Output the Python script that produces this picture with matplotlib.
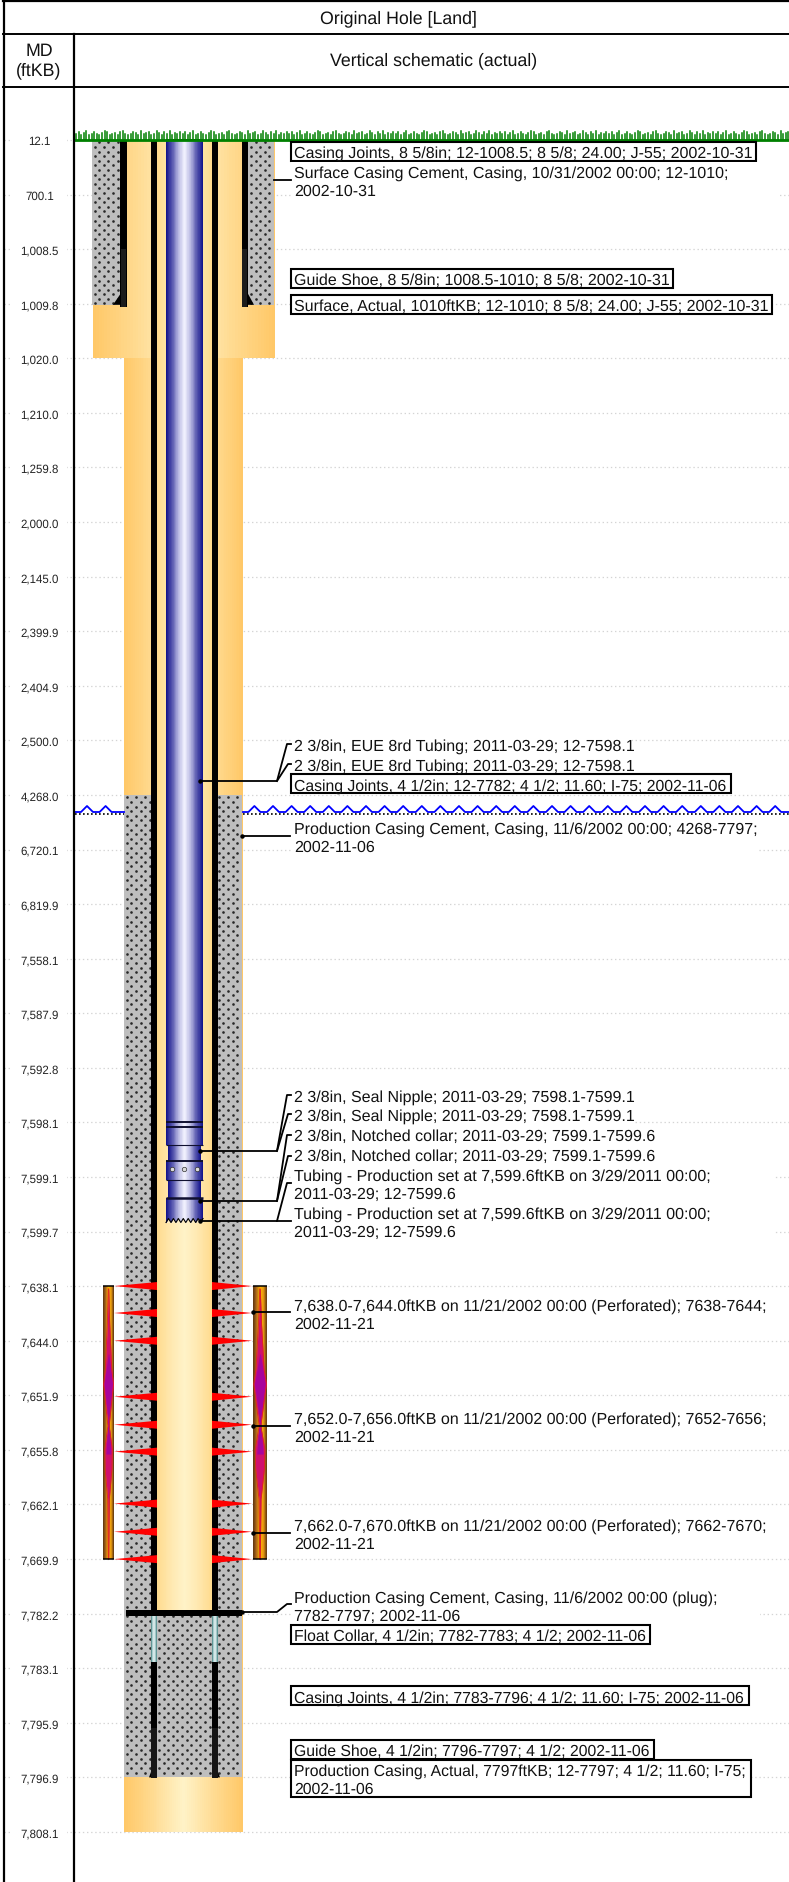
import matplotlib
matplotlib.use('Agg')
import matplotlib.pyplot as plt
import numpy as np
from matplotlib.colors import LinearSegmentedColormap
from matplotlib.patches import Rectangle
from matplotlib.transforms import Affine2D

plt.rcParams['font.family'] = ['Liberation Sans', 'DejaVu Sans']
plt.rcParams['text.hinting'] = 'no_hinting'

WIDTH, HEIGHT = 789, 1883

# Depth stations shown on the MD column, evenly spaced on the page
md_ticks = [12.1, 700.1, 1008.5, 1009.8, 1020.0, 1210.0, 1259.8, 2000.0, 2145.0, 2399.9, 2404.9,
	2500.0, 4268.0, 6720.1, 6819.9, 7558.1, 7587.9, 7592.8, 7598.1, 7599.1, 7599.7, 7638.1,
	7644.0, 7651.9, 7655.8, 7662.1, 7669.9, 7782.2, 7783.1, 7795.9, 7796.9, 7808.1]
md_labels = ['12.1', '700.1', '1,008.5', '1,009.8', '1,020.0', '1,210.0', '1,259.8', '2,000.0', '2,145.0',
	'2,399.9', '2,404.9', '2,500.0', '4,268.0', '6,720.1', '6,819.9', '7,558.1', '7,587.9', '7,592.8',
	'7,598.1', '7,599.1', '7,599.7', '7,638.1', '7,644.0', '7,651.9', '7,655.8', '7,662.1', '7,669.9',
	'7,782.2', '7,783.1', '7,795.9', '7,796.9', '7,808.1']

# Perforation shots
shot_mds = [7638, 7641, 7644, 7652, 7654, 7656, 7662, 7666, 7670]

# Grass blade heights, repeated along the ground line
grass_heights = [6, 8, 5, 7, 9, 5, 6, 8, 6, 5, 7, 9, 8, 5, 6, 7, 5, 8, 9, 6, 5, 6, 8, 7, 5, 9, 6, 7, 8, 5, 6, 9, 7, 5, 8, 6, 9, 5, 7, 6, 8]

# text, row of the first line, right edge of the white block, boxed
label_texts = [
	('Casing Joints, 8 5/8in; 12-1008.5; 8 5/8; 24.00; J-55; 2002-10-31', 152, 756, True),
	('Surface Casing Cement, Casing, 10/31/2002 00:00; 12-1010;\n2002-10-31', 172, 778, False),
	('Guide Shoe, 8 5/8in; 1008.5-1010; 8 5/8; 2002-10-31', 279.5, 673, True),
	('Surface, Actual, 1010ftKB; 12-1010; 8 5/8; 24.00; J-55; 2002-10-31', 305.5, 772, True),
	('2 3/8in, EUE 8rd Tubing; 2011-03-29; 12-7598.1', 745, 632, False),
	('2 3/8in, EUE 8rd Tubing; 2011-03-29; 12-7598.1', 765, 632, False),
	('Casing Joints, 4 1/2in; 12-7782; 4 1/2; 11.60; I-75; 2002-11-06', 784.5, 731, True),
	('Production Casing Cement, Casing, 11/6/2002 00:00; 4268-7797;\n2002-11-06', 828, 757, False),
	('2 3/8in, Seal Nipple; 2011-03-29; 7598.1-7599.1', 1096, 633, False),
	('2 3/8in, Seal Nipple; 2011-03-29; 7598.1-7599.1', 1115, 633, False),
	('2 3/8in, Notched collar; 2011-03-29; 7599.1-7599.6', 1135, 653, False),
	('2 3/8in, Notched collar; 2011-03-29; 7599.1-7599.6', 1155, 653, False),
	('Tubing - Production set at 7,599.6ftKB on 3/29/2011 00:00;\n2011-03-29; 12-7599.6', 1175, 775, False),
	('Tubing - Production set at 7,599.6ftKB on 3/29/2011 00:00;\n2011-03-29; 12-7599.6', 1213, 775, False),
	('7,638.0-7,644.0ftKB on 11/21/2002 00:00 (Perforated); 7638-7644;\n2002-11-21', 1305, 785, False),
	('7,652.0-7,656.0ftKB on 11/21/2002 00:00 (Perforated); 7652-7656;\n2002-11-21', 1418, 785, False),
	('7,662.0-7,670.0ftKB on 11/21/2002 00:00 (Perforated); 7662-7670;\n2002-11-21', 1525, 785, False),
	('Production Casing Cement, Casing, 11/6/2002 00:00 (plug);\n7782-7797; 2002-11-06', 1597, 760, False),
	('Float Collar, 4 1/2in; 7782-7783; 4 1/2; 2002-11-06', 1635, 650, True),
	('Casing Joints, 4 1/2in; 7783-7796; 4 1/2; 11.60; I-75; 2002-11-06', 1696.5, 749, True),
	('Guide Shoe, 4 1/2in; 7796-7797; 4 1/2; 2002-11-06', 1750.5, 654, True),
	('Production Casing, Actual, 7797ftKB; 12-7797; 4 1/2; 11.60; I-75;\n2002-11-06', 1770, 751, True),
]

# Page rows of the stations, and the extended depth range for the empty top and bottom
scale_md = np.array([-3000.0] + md_ticks + [12000.0])
scale_rows = np.array([88.0] + [141 + 54.58*i for i in range(len(md_ticks))] + [HEIGHT])

def row_of(md):
	return np.interp(md, scale_md, scale_rows)

def md_of(row):
	return np.interp(row, scale_rows, scale_md)

def shift(md, rows):
	return md_of(row_of(md) + rows)

figure = plt.figure(figsize = (WIDTH/100, HEIGHT/100), dpi = 100)
axe = figure.add_axes([0, 0, 1, (HEIGHT - 88)/HEIGHT])
axe.set_yscale('function', functions = (row_of, md_of))
axe.set_xlim(0, WIDTH)
axe.set_ylim(12000, -3000)
axe.patch.set_visible(False)
for spine in axe.spines.values():
	spine.set_visible(False)
axe.set_xticks([])
axe.set_yticks(md_ticks, md_labels)
axe.minorticks_off()
axe.tick_params(axis = 'y', length = 0, pad = -28.5, labelsize = 8.3, labelcolor = '#222222')
for label in axe.get_yticklabels():
	label.set_ha('center')

# page pixels for layout things (labels, frame)
px = Affine2D().scale(1, -1).translate(0, HEIGHT)

def pipe(x0, x1, md0, md1, colors, zorder):
	cmap = LinearSegmentedColormap.from_list('pipe', colors)
	edges = np.linspace(x0, x1, 65)
	values = np.linspace(0, 1, 64).reshape(1, -1)
	axe.pcolormesh(edges, [md0, md1], values, cmap = cmap, shading = 'flat', zorder = zorder, antialiased = False)

def block(x0, x1, md0, md1, color, zorder):
	axe.add_patch(Rectangle((x0, md0), x1 - x0, md1 - md0, facecolor = color, edgecolor = 'none', zorder = zorder))

def cement(x0, x1, md0, md1, zorder):
	block(x0, x1, md0, md1, '#bebebe', zorder)
	row0, row1 = row_of(md0), row_of(md1)
	xs, ys = [], []
	for i, row in enumerate(np.arange(row0 + 2.5, row1 - 1, 4.6)):
		start = 90 + (4.6 if i % 2 else 0)
		for x in np.arange(start, x1 + 9, 9.2):
			if x0 + 1 < x < x1 - 1:
				xs.append(x)
				ys.append(row)
	axe.plot(xs, md_of(np.array(ys)), linestyle = 'none', marker = 'o', markersize = 1.9,
		markerfacecolor = '#282828', markeredgecolor = 'none', zorder = zorder + 0.1)

ORANGE = ['#ffc868', '#ffdc94', '#fff3c8', '#ffdc94', '#ffc868']
INNER = ['#ffdb8e', '#ffe8b0', '#fff3c8', '#ffe8b0', '#ffdb8e']
TUBE = ['#14148c', '#5a5ab0', '#b8b8e2', '#f4f4ff', '#b8b8e2', '#5a5ab0', '#14148c']
TEAL = ['#3f7f7f', '#a9cccc', '#e8f4f4', '#a9cccc', '#3f7f7f']
BAR = ['#5f3410', '#b06a18', '#ffb400', '#e89a10', '#5f3410']

# grid and the white strip behind the MD labels
axe.hlines(md_ticks, 4, WIDTH, color = '#d4d4d4', linewidth = 0.9, linestyle = (0, (1.1, 2.2)), zorder = 0.2)
axe.add_patch(Rectangle((11, -3000), 56, 15000, facecolor = 'white', edgecolor = 'none', zorder = 0.3))

# hole fill
pipe(93, 275, 12.1, 1020, ORANGE, 1)
pipe(124, 243, 1020, 7808.1, ORANGE, 1)

# cement
cement(92, 120.5, 12.1, 1010, 2)
cement(248, 274, 12.1, 1010, 2)
cement(124, 242, 4268, 7796.9, 2)

# inside of the production casing
pipe(157, 212, 12.1, 7782.2, INNER, 3)

# surface casing
for x0, x1 in [(120.5, 127), (242, 248)]:
	block(x0, x1, 12.1, 1010.4, 'black', 4)
	block(x0 + 0.5, x1 - 0.5, 1008.5, 1010.4, '#1c1c1c', 4.1)
axe.fill([120.5, 113, 120.5], [shift(1010, -11), 1010, 1010], color = 'black', linewidth = 0, zorder = 4)
axe.fill([248, 254, 248], [shift(1010, -11), 1010, 1010], color = 'black', linewidth = 0, zorder = 4)

# production casing
for x0, x1 in [(151, 157), (212, 218)]:
	block(x0, x1, 12.1, 7782.2, 'black', 4)
	pipe(x0, x1, 7782.2, 7783, TEAL, 4)
	block(x0, x1, 7783, 7797, 'black', 4)
	block(x0, x1, 7796, 7797, '#161616', 4.1)
axe.fill([151, 149, 151], [shift(7797, -6), 7796.9, 7796.9], color = 'black', linewidth = 0, zorder = 4)
axe.fill([218, 220, 218], [shift(7797, -6), 7796.9, 7796.9], color = 'black', linewidth = 0, zorder = 4)
block(126, 242, shift(7782.2, -4), shift(7782.2, 2), 'black', 5)

# tubing string
pipe(166, 203, 12.1, 7598.1, TUBE, 6)
pipe(166, 203, 7598.1, 7598.51, TUBE, 6)
pipe(168, 201, 7598.51, 7598.81, TUBE, 6)
pipe(166, 203, 7598.81, 7599.13, TUBE, 6)
pipe(168, 201, 7599.13, 7599.33, TUBE, 6)
pipe(166, 203, 7599.33, 7599.6, TUBE, 6)
axe.hlines([12.1], 166, 203, color = 'black', linewidth = 1.2, zorder = 6.2)
for md, x0, x1, width in [(7598.1, 166, 203, 1.4), (7598.18, 166, 203, 1.4), (7598.51, 166, 203, 0.8),
		(7598.81, 166, 203, 1.4), (7599.13, 166, 203, 0.8), (7599.33, 166, 203, 1.8)]:
	axe.hlines([md], x0, x1, color = '#101030', linewidth = width, zorder = 6.2)
axe.plot([172, 184.5, 197], [7598.96]*3, linestyle = 'none', marker = 'o', markersize = 3.2,
	markerfacecolor = '#dddddd', markeredgecolor = '#333333', markeredgewidth = 0.5, zorder = 6.3)

# notched collar teeth
teeth_x = np.arange(166, 204, 2.47)
teeth_rows = row_of(7599.6) + np.where(np.arange(len(teeth_x)) % 2 == 0, 0, -4.0)
axe.fill_between(teeth_x, md_of(teeth_rows), 7599.6, color = '#ffeec0', linewidth = 0, zorder = 6.25)
axe.plot(teeth_x, md_of(teeth_rows), color = 'black', linewidth = 0.8, zorder = 6.3)

# perforation guns
for x0, x1 in [(103, 114), (253, 267)]:
	pipe(x0, x1, 7638.1, 7669.9, BAR, 3)
	axe.hlines([7638.1, 7669.9], x0, x1, color = 'black', linewidth = 1.1, zorder = 3.2)
	mid = (x0 + x1)/2
	half = (x1 - x0)/11
	flame_rows = np.array([1290, 1325, 1370, 1385, 1427, 1450, 1470, 1500, 1560])
	flame_width = np.array([0.2, 1.2, 3.2, 5.0, 0.6, 3.8, 3.4, 0.8, 0.2])*half
	axe.fill_betweenx(md_of(flame_rows), mid - flame_width, mid + flame_width, color = '#d0106e', linewidth = 0, zorder = 3.1)
	core_rows = np.array([1355, 1385, 1420, 1455])
	core_width = np.array([0.3, 4.4, 0.5, 2.6])*half
	axe.fill_betweenx(md_of(core_rows), mid - core_width, mid + core_width, color = '#a8049c', linewidth = 0, zorder = 3.15)
	axe.plot(mid - flame_width, md_of(flame_rows), color = '#e02020', linewidth = 0.6, zorder = 3.18)
	axe.plot(mid + flame_width, md_of(flame_rows), color = '#e02020', linewidth = 0.6, zorder = 3.18)
	axe.fill_betweenx(md_of(np.array([1500, 1540, 1558])), mid - 0.9*half, mid + 0.9*half, color = '#f0a000', linewidth = 0, zorder = 3.05)

# perforation shots
for md in shot_mds:
	upper, lower = shift(md, -4), shift(md, 4)
	axe.fill([157, 114, 157], [upper, md, lower], color = '#ff0000', linewidth = 0, zorder = 4.5)
	axe.fill([212, 252, 212], [upper, md, lower], color = '#ff0000', linewidth = 0, zorder = 4.5)

# ground line
grass_x = np.arange(76, WIDTH, 2.6)
tops = [141 - grass_heights[i % len(grass_heights)] for i in range(len(grass_x))]
figure.add_artist(plt.Line2D([75, WIDTH], [140.5, 140.5], color = '#008000', linewidth = 2.0, transform = px))
for x, top in zip(grass_x, tops):
	figure.add_artist(plt.Line2D([x, x], [top, 141], color = '#008000', linewidth = 1.1, transform = px, zorder = 1))

# water table, broken by the well
for x0, x1 in [(75, 124), (243, WIDTH)]:
	wave_x, wave_y = [x0], [813]
	for peak in np.arange(87, WIDTH + 10, 18.6):
		if peak - 6 > x0 and peak + 6 < x1:
			wave_x += [peak - 6, peak, peak + 6]
			wave_y += [813, 807, 813]
	wave_x.append(x1)
	wave_y.append(813)
	figure.add_artist(plt.Line2D(wave_x, wave_y, color = '#0000ff', linewidth = 1.3, transform = px, zorder = 1))
	figure.add_artist(plt.Line2D([x0, x1], [815, 815], color = 'black', linewidth = 1.2, linestyle = (0, (1, 1.4)), transform = px, zorder = 1))

# labels
for text, row, right, boxed in label_texts:
	lines = text.split('\n')
	top = row - 9.5
	bottom = row + 18*(len(lines) - 1) + 9.5
	if boxed:
		figure.add_artist(Rectangle((291, top), right - 291, bottom - top, facecolor = 'white',
			edgecolor = 'black', linewidth = 1.5, transform = px, zorder = 5))
	else:
		figure.add_artist(Rectangle((291, top), right - 291, bottom - top, facecolor = 'white',
			edgecolor = 'none', transform = px, zorder = 5))
	# the 4 1/2 labels run a little narrower in the original
	size = 11.3 if '4 1/2' in text else 11.5
	for i, line in enumerate(lines):
		figure.text(294, row + 18*i, line, fontsize = size, color = '#111111', va = 'center_baseline', ha = 'left',
			transform = px, zorder = 6)

# leader lines, the first point of a run sits on the item
leaders = [
	[(274, 181), (291, 181)],
	[(200, 782), (277, 782), (287, 745), (291, 745)],
	[(277, 782), (288, 765), (291, 765)],
	[(242, 837), (290, 837)],
	[(200, 1152), (277, 1152), (287, 1096), (291, 1096)],
	[(277, 1152), (288, 1115), (291, 1115)],
	[(200, 1202), (277, 1202), (287, 1136), (291, 1136)],
	[(277, 1202), (288, 1157), (291, 1157)],
	[(200, 1222), (277, 1222), (287, 1184), (291, 1184)],
	[(277, 1222), (291, 1222)],
	[(253, 1313), (290, 1313)],
	[(253, 1427), (290, 1427)],
	[(253, 1534), (290, 1534)],
	[(242, 1613), (277, 1613), (287, 1605), (291, 1605)],
]
for points in leaders:
	xs, ys = zip(*points)
	figure.add_artist(plt.Line2D(xs, ys, color = 'black', linewidth = 1.3, transform = px, zorder = 7))
	if xs[0] < 270:
		figure.add_artist(plt.Line2D(xs[:1], ys[:1], color = 'black', marker = 'o', markersize = 2.2, linestyle = 'none', transform = px, zorder = 7))

# frame and header
for xs, ys, width in [([3, WIDTH], [2, 2], 1.6), ([3, WIDTH], [35, 35], 1.4), ([3, WIDTH], [87.5, 87.5], 1.4),
		([3.5, 3.5], [1, HEIGHT], 1.6), ([73.5, 73.5], [35, HEIGHT], 1.6)]:
	figure.add_artist(plt.Line2D(xs, ys, color = 'black', linewidth = width, transform = px, zorder = 8))
header_font = dict(fontsize = 12.8, color = '#111111', va = 'center', ha = 'center', transform = px)
figure.text(398, 19, 'Original Hole [Land]', **header_font)
figure.text(433.5, 61, 'Vertical schematic (actual)', **header_font)
figure.text(39, 51, 'MD', **header_font)
figure.text(39, 71, '(ftKB)', **header_font)

figure.savefig('out.png', dpi = 100)
